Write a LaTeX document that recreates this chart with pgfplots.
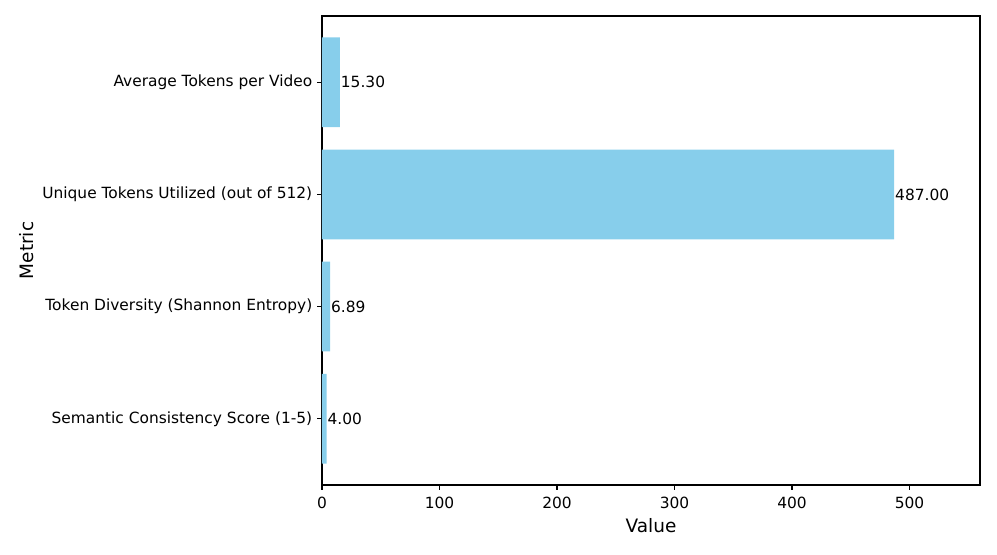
\documentclass[border=0pt]{standalone}
\usepackage{pgfplots}
\pgfplotsset{compat=1.18}
\usepackage{fontspec}
\setmainfont{DejaVu Sans}
\definecolor{skyblue}{HTML}{87CEEB}
\begin{document}
\begin{tikzpicture}[x=1bp,y=1bp]
\useasboundingbox (-231.84bp,-49.68bp) rectangle (486bp,349.2bp);
\begin{axis}[
  at={(0,0)}, anchor=south west,
  scale only axis,
  width=473.76bp, height=337.68bp,
  xmin=0, xmax=560,
  ymin=-0.59, ymax=3.59,
  xbar, bar width=0.8, bar shift=0pt,
  ytick={0,1,2,3},
  yticklabels={Semantic Consistency Score (1-5),Token Diversity (Shannon Entropy),Unique Tokens Utilized (out of 512),Average Tokens per Video},
  xtick={0,100,200,300,400,500},
  tick align=outside,
  major tick length=3.5bp,
  tick style={line width=0.8bp, black},
  axis line style={line width=0.8bp},
  xtick pos=bottom, ytick pos=left,
  /pgf/number format/assume math mode=true,
  ticklabel style={font=\fontsize{11.1bp}{13bp}\selectfont},
  xticklabel style={yshift=-1.5bp},
  xlabel={Value}, ylabel={Metric},
  label style={font=\fontsize{13.3bp}{15bp}\selectfont},
  xlabel style={yshift=0bp},
  ylabel style={yshift=-1bp},
  point meta=explicit symbolic,
  nodes near coords={\pgfplotspointmeta},
  nodes near coords style={anchor=west, inner xsep=0.5bp, black, font=\fontsize{11.1bp}{13bp}\selectfont},
  clip=false,
]
\addplot[fill=skyblue, draw=none] coordinates {(4.00,0) [4.00] (6.89,1) [6.89] (487.00,2) [487.00] (15.30,3) [15.30]};
\end{axis}
\end{tikzpicture}
\end{document}
